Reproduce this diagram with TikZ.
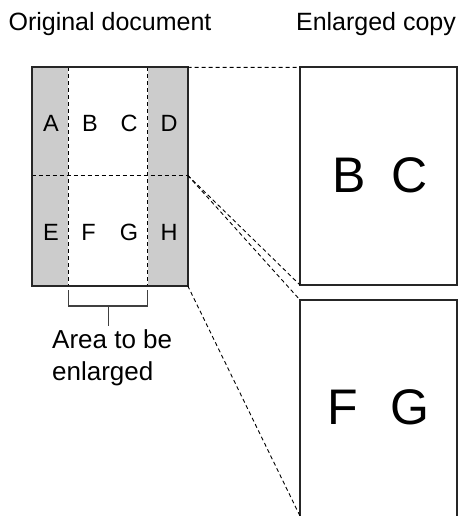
\documentclass[tikz,border=0pt]{standalone}
\usepackage{fontspec}
\setmainfont{Liberation Sans}
\begin{document}
\begin{tikzpicture}[x=1pt,y=-1pt,
  frame/.style={draw=black!85,line width=1.8pt,inner sep=0pt,outer sep=0pt},
  dline/.style={draw=black,line width=0.9pt,dash pattern=on 4pt off 3pt},
  head/.style={font=\fontsize{25}{30}\selectfont,anchor=base,inner sep=0pt},
  small/.style={font=\fontsize{23.5}{28}\selectfont,inner sep=0pt},
  big/.style={font=\fontsize{50}{60}\selectfont,inner sep=0pt},
  brk/.style={draw=black!75,line width=1.2pt}]
\useasboundingbox (0,0) rectangle (469,516);
\clip (0,0) rectangle (469,516);
% headers
\node[head] (h1) at (110,31) {Original document};
\node[head] (h2) at (376,31) {Enlarged copy};
% original document
\fill[black!20] (31.7,67.3) rectangle (68.3,285.7);
\fill[black!20] (147.7,67.3) rectangle (187.7,285.7);
\node[frame,minimum width=156pt,minimum height=218.4pt] (orig) at (109.7,176.5) {};
\coordinate (midL) at (31.7,175.3);
\coordinate (midR) at (187.7,175.3);
\coordinate (v1t) at (68.3,67.3);
\coordinate (v1b) at (68.3,285.7);
\coordinate (v2t) at (147.7,67.3);
\coordinate (v2b) at (147.7,285.7);
\draw[dline] (v1t) -- (v1b);
\draw[dline] (v2t) -- (v2b);
\draw[dline] (midL) -- (midR);
\node[frame,minimum width=156pt,minimum height=218.4pt] at (109.7,176.5) {};
% letters
\node[small] (A) at (51,123) {A};
\node[small] (B) at (90,123) {B};
\node[small] (C) at (129,123) {C};
\node[small] (D) at (169,123) {D};
\node[small] (E) at (51,232.7) {E};
\node[small] (F) at (88.5,232.7) {F};
\node[small] (G) at (129,232.7) {G};
\node[small] (H) at (169,232.7) {H};
% bracket
\coordinate (bl) at (68.3,290);
\coordinate (br) at (147.7,290);
\coordinate (bs) at (108.7,326);
\draw[brk] (bl) -- (68.3,306) -- (147.7,306) -- (br);
\draw[brk] (108.7,306) -- (bs);
\node[font=\fontsize{26}{32}\selectfont,align=left,anchor=north west,inner sep=0pt] (area) at (52,329.5) {Area to be\\enlarged};
% enlarged copies
\node[frame,minimum width=157.3pt,minimum height=217.7pt] (up) at (378.7,176.2) {};
\node[frame,minimum width=157.3pt,minimum height=240pt] (lo) at (378.7,420) {};
\node[big] (bB) at (349,175) {B};
\node[big] (bC) at (410,175) {C};
\node[big] (fF) at (343,407) {F};
\node[big] (fG) at (410,407) {G};
\coordinate (lowend) at (300,516);
% connectors
\draw[dline] (orig.north east) -- (up.north west);
\draw[dline] (midR) -- (up.south west);
\draw[dline] (midR) -- (lo.north west);
\draw[dline] (orig.south east) -- (lowend);
\end{tikzpicture}
\end{document}
